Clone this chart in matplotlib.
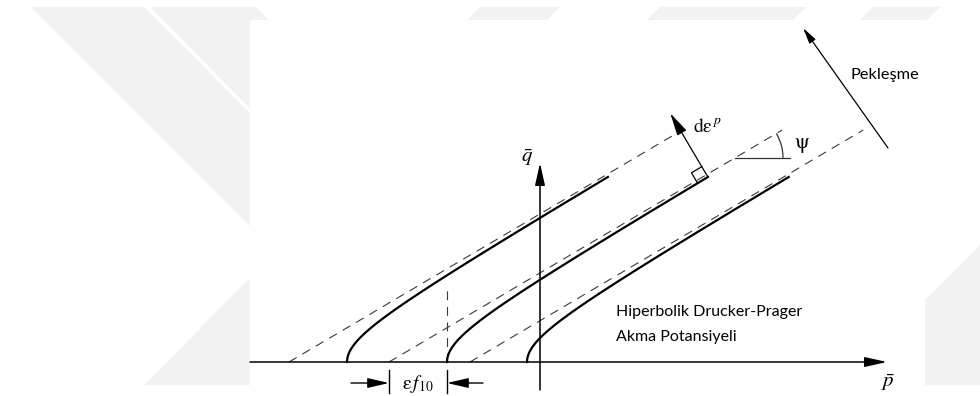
import numpy as np
import matplotlib.pyplot as plt
from matplotlib.patches import Polygon, Rectangle, Arc

plt.rcParams['mathtext.fontset'] = 'stix'

# diagram units = pixels, origin at the axis crossing, q pointing up
ORIGIN = (540, 362)
slope = 0.59                 # tan(psi)
apex_p = [-193, -93, -13]    # where each potential meets the p axis
center_p = [-251, -151, -70] # where each asymptote meets the p axis
solid_top_q = 185
dashed_top_q = 232
p_axis = [-290, 347]
q_axis = [-28, 199]

# faint thesis watermark (image pixels, y down)
wm_shapes = [
    [(31, 7), (144, 7), (386, 249), (250, 385), (144, 385), (276, 252)],
    [(150, 7), (256, 7), (500, 251), (362, 389), (256, 389), (390, 251)],
    [(480, 7), (560, 7), (547, 20), (467, 20)],
    [(660, 7), (806, 7), (793, 20), (647, 20)],
    [(873, 7), (940, 7), (927, 20), (860, 20)],
    [(925, 300), (980, 245), (980, 385), (925, 385)],
]
white_box = (250, 20, 925, 396)

def px(x, y):
    return (x - ORIGIN[0], ORIGIN[1] - y)

fig = plt.figure(figsize=(9.8, 3.96), dpi=100)
ax = fig.add_axes([0, 0, 1, 1])
ax.set_xlim(-ORIGIN[0], 980 - ORIGIN[0])
ax.set_ylim(ORIGIN[1] - 396, ORIGIN[1])
ax.axis('off')

for shp in wm_shapes:
    ax.add_patch(Polygon([px(*v) for v in shp], closed=True, fc='#f2f2f2', ec='none', zorder=0))
x0, y0, x1, y1 = white_box
ax.add_patch(Rectangle(px(x0, y1), x1 - x0, y1 - y0, fc='white', ec='none', zorder=1))

def arrow(tail, tip, lw=1.1, hl=1.35, hw=0.3, ms=10):
    ax.annotate('', xy=tip, xytext=tail, zorder=5,
                arrowprops=dict(arrowstyle='-|>,head_length=%g,head_width=%g' % (hl, hw),
                                lw=lw, color='k', shrinkA=0, shrinkB=0, mutation_scale=ms))

# axes
arrow((p_axis[0], 0), (p_axis[1], 0))
arrow((0, q_axis[0]), (0, q_axis[1]))
ax.text(-13, 204, r'$\bar{q}$', fontsize=15, ha='center', va='center', zorder=6)
ax.text(348, -21, r'$\bar{p}$', fontsize=15, ha='center', va='center', zorder=6)

dash_kw = dict(color='#3a3a3a', lw=0.8, dashes=(8, 6), zorder=3)

# hyperbolic potentials and their asymptotes
for c, a0 in zip(center_p, apex_p):
    a = a0 - c
    t = np.linspace(0, np.arcsinh(solid_top_q / (slope * a)), 300)
    ax.plot(c + a * np.cosh(t), slope * a * np.sinh(t), color='k', lw=1.6, zorder=4)
    ax.plot([c, c + dashed_top_q / slope], [0, dashed_top_q], **dash_kw)

# vertical dashed line at middle apex
ax.plot([apex_p[1], apex_p[1]], [0, 72], **dash_kw)

# eps f10 dimension
ax.plot([center_p[1], center_p[1]], [-8, -31], color='k', lw=1.0, zorder=4)
ax.plot([apex_p[1], apex_p[1]], [-8, -31], color='k', lw=1.0, zorder=4)
arrow((center_p[1] - 38, -21), (center_p[1], -21), lw=1.0, hl=1.3, hw=0.3)
arrow((apex_p[1] + 36, -21), (apex_p[1], -21), lw=1.0, hl=1.3, hw=0.3)
ax.text((center_p[1] + apex_p[1]) / 2, -22, r'$\mathrm{\varepsilon}\,f_{10}$', fontsize=14,
        ha='center', va='center', zorder=6)

# plastic strain direction, normal to the middle potential
tang = np.array([1.0, slope]) / np.hypot(1.0, slope)
norm = np.array([-slope, 1.0]) / np.hypot(1.0, slope)
a2 = apex_p[1] - center_p[1]
foot = np.array([center_p[1] + np.hypot(solid_top_q / slope, a2), solid_top_q])
arrow(tuple(foot), tuple(foot + 74 * norm), lw=0.9, hl=1.4, hw=0.32)
s = 12
sq = np.array([foot - s * tang, foot - s * tang + s * norm, foot + s * norm])
ax.plot(sq[:, 0], sq[:, 1], color='k', lw=0.9, zorder=4)
ax.text(153, 236, r'$\mathrm{d\varepsilon}^{\,p}$', fontsize=14, ha='left', va='center', zorder=6)

# dilation angle
pc = 195
qc = slope * (pc - center_p[1])
ax.plot([pc, pc + 55], [qc, qc], color='#333333', lw=0.9, zorder=4)
ax.add_patch(Arc((pc, qc), 96, 96, theta1=0, theta2=np.degrees(np.arctan(slope)),
                 color='#333333', lw=0.9, zorder=4))
ax.text(262, 217, r'$\mathrm{\psi}$', fontsize=15, ha='center', va='center', zorder=6)

# hardening
arrow((348, 214), (263, 334), lw=0.9, hl=1.2, hw=0.28, ms=8)
ax.text(310, 287, 'Pekleşme', fontsize=11.8, family='Lato', ha='left', va='center', zorder=6)

ax.text(76, 50, 'Hiperbolik Drucker-Prager', fontsize=11.5, family='Lato', ha='left', va='center', zorder=6)
ax.text(76, 25, 'Akma Potansiyeli', fontsize=11.5, family='Lato', ha='left', va='center', zorder=6)

fig.savefig('out.png', dpi=100)
